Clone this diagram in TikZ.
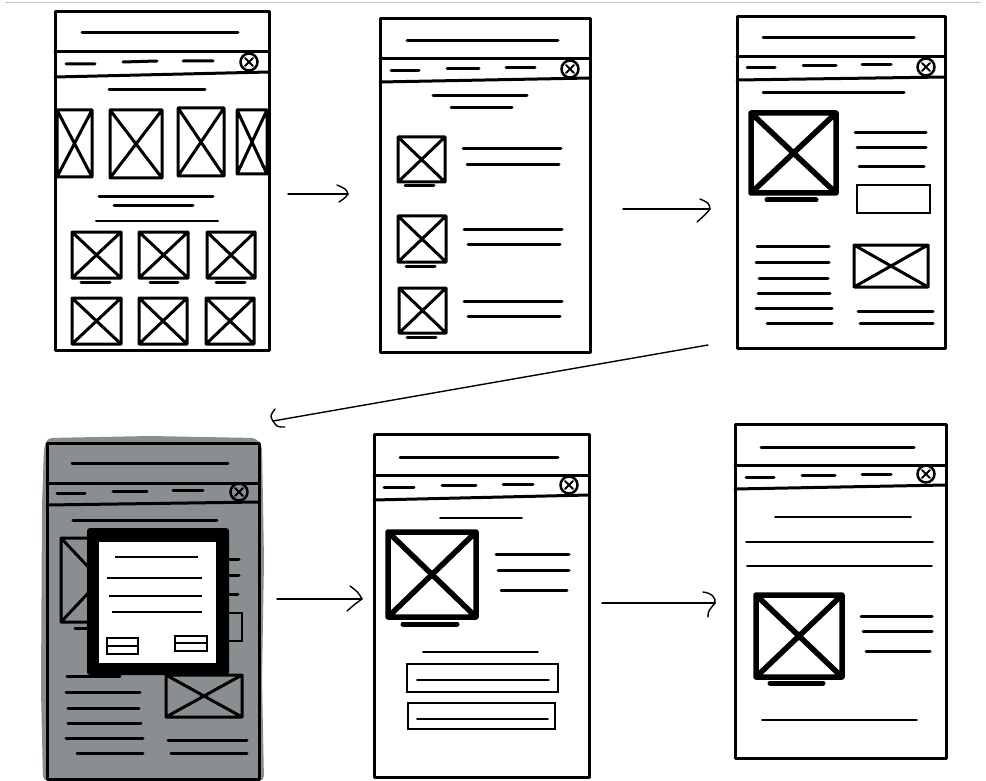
\documentclass[tikz,border=0pt]{standalone}
\begin{document}
\begin{tikzpicture}[x=1pt,y=-1pt]
\tikzset{
  fr/.style={line width=3pt, line cap=round, line join=round},
  tl/.style={line width=3pt, line cap=round},
  thn/.style={line width=1.6pt, line cap=round},
  thk/.style={line width=5pt, line cap=round},
  arr/.style={line width=1.4pt, line cap=round, line join=round},
}
\definecolor{greyfill}{RGB}{137,142,144}
\newcommand{\wfbox}[5]{\draw[line width=#5,line join=round,line cap=round] (#1,#2) rectangle (#3,#4) (#1,#2) -- (#3,#4) (#1,#4) -- (#3,#2);}
\newcommand{\wfclose}[2]{\draw[line width=2.5pt] (#1,#2) circle[radius=8.5pt]; \draw[line width=2pt,line cap=round] (#1-4,#2-4) -- (#1+4,#2+4) (#1-4,#2+4) -- (#1+4,#2-4);}
\newcommand{\wfframe}[7]{\draw[fr] (#1,#2) rectangle (#3,#4); \draw[fr] (#1,#5) -- (#3,#5); \draw[fr] (#1,#6) -- (#3,#7);}
\useasboundingbox (0,0) rectangle (986,781);
\fill[white] (0,0) rectangle (986,781);
\draw[line width=1.5pt, black!22] (5,2.5) -- (981,2.5);

% ---------- Frame 1
\wfframe{55}{12}{269}{350}{52}{77}{72}
\draw[tl] (82,33)--(238,33);
\draw[tl] (66,64)--(95,64) (123,62)--(157,61) (183,61)--(213,61);
\wfclose{249}{62}
\draw[tl] (109,90)--(205,90);
\wfbox{57}{110}{92}{177}{3pt}
\wfbox{110}{110}{162}{178}{3pt}
\wfbox{178}{108}{224}{176}{3pt}
\wfbox{237}{110}{267}{174}{3pt}
\draw[tl] (99,197)--(213,197) (114,206)--(193,206);
\draw[line width=2pt,line cap=round] (96,221)--(218,221);
\wfbox{72}{232}{121}{278}{3pt}
\wfbox{139}{232}{188}{278}{3pt}
\wfbox{207}{232}{255}{278}{3pt}
\draw[tl] (81,282)--(110,282) (150,282)--(178,282) (216,282)--(245,282);
\wfbox{72}{298}{121}{344}{3pt}
\wfbox{139}{298}{187}{344}{3pt}
\wfbox{206}{298}{254}{344}{3pt}

% ---------- Frame 2
\wfframe{380}{19}{590}{352}{59}{82}{78}
\draw[tl] (407,41)--(558,41);
\draw[tl] (391,71)--(419,71) (447,69)--(479,69) (506,68)--(535,68);
\wfclose{570}{69}
\draw[tl] (433,96)--(527,96) (451,108)--(512,108);
\wfbox{398}{137}{445}{182}{3pt}
\draw[tl] (405,186)--(434,186) (463,149)--(561,149) (467,165)--(559,165);
\wfbox{398}{216}{446}{262}{3pt}
\draw[tl] (406,266)--(435,266) (464,229)--(562,229) (468,244)--(560,244);
\wfbox{399}{288}{446}{333}{3pt}
\draw[tl] (407,337)--(436,337) (464,301)--(562,301) (468,316)--(560,316);

% ---------- Frame 3
\wfframe{737}{17}{945}{348}{57}{80}{77}
\draw[tl] (763,38)--(914,38);
\draw[tl] (747,68)--(775,68) (803,66)--(836,66) (862,65)--(891,65);
\wfclose{926}{67}
\draw[tl] (763,93)--(904,93);
\wfbox{751}{113}{836}{193}{5.5pt}
\draw[thk] (767,200)--(816,200);
\draw[tl] (855,133)--(926,133) (857,148)--(926,148) (859,167)--(924,167);
\draw[line width=2.5pt] (857,185) rectangle (930,213);
\draw[tl] (757,246)--(829,246) (756,262)--(829,262) (759,278)--(828,278)
  (758,293)--(830,293) (756,308)--(832,308) (767,323)--(832,323);
\wfbox{854}{245}{928}{287}{3pt}
\draw[tl] (858,311)--(933,311) (860,323)--(933,323);

% ---------- Frame 4 (modal)
\fill[greyfill, rounded corners=5pt] (47,438) -- (150,436) -- (256,438) -- (262,446)
  -- (264,560) -- (262,680) -- (264,781) -- (43,781) -- (41,690) -- (42,505)
  -- (44,448) -- cycle;
\wfframe{47}{443}{259}{779}{483}{505}{502}
\draw[tl] (72,463)--(228,463);
\draw[tl] (57,493)--(85,493) (113,491)--(147,491) (173,490)--(203,490);
\wfclose{239}{492}
\draw[tl] (73,520)--(217,520);
\wfbox{61}{538}{140}{622}{3pt}
\draw[tl] (75,628)--(110,628);
\draw[tl] (160,559)--(239,559) (160,575)--(239,575) (160,594)--(238,594);
\draw[line width=2.5pt] (170,613) rectangle (242,641);
\draw[tl] (67,676)--(120,676);
\fill[black, rounded corners=3pt] (87,528) rectangle (229,675);
\fill[white] (99,542) rectangle (216,663);
\draw[line width=1.6pt] (115,557)--(198,557) (107,578)--(202,578) (109,596)--(202,596) (112,612)--(202,612);
\draw[line width=1.8pt] (107,638) rectangle (138,654) (107,646)--(138,646);
\draw[line width=1.8pt] (175,636) rectangle (207,651) (175,643)--(207,643);
\wfbox{166}{675}{242}{717}{3pt}
\draw[tl] (66,692)--(140,692) (68,708)--(139,708) (68,723)--(141,723)
  (66,738)--(143,738) (77,753)--(143,753);
\draw[tl] (168,740)--(247,740) (171,753)--(247,753);

% ---------- Frame 5
\wfframe{374}{434}{589}{777}{475}{500}{495}
\draw[tl] (400,457)--(558,457);
\draw[tl] (384,487)--(414,487) (442,485)--(476,485) (503,484)--(533,484);
\wfclose{569}{485}
\draw[thn] (440,518)--(522,518);
\wfbox{388}{532}{476}{617}{5.5pt}
\draw[thk] (403,624)--(457,624);
\draw[tl] (496,554)--(569,554) (498,570)--(569,570) (501,590)--(567,590);
\draw[thn] (423,652)--(538,652);
\draw[line width=2pt] (407,664) rectangle (558,692) (408,703) rectangle (555,729);
\draw[thn] (417,680)--(549,680) (417,719)--(548,719);

% ---------- Frame 6
\wfframe{735}{424}{946}{758}{465}{489}{485}
\draw[tl] (761,447)--(914,447);
\draw[tl] (746,477)--(774,477) (802,475)--(835,475) (862,474)--(891,474);
\wfclose{926}{474}
\draw[thn] (775,517)--(911,517) (746,542)--(933,542) (747,566)--(932,566);
\wfbox{756}{595}{842}{677}{5.5pt}
\draw[thk] (770,683)--(823,683);
\draw[tl] (861,616)--(932,616) (863,631)--(932,631) (866,651)--(930,651);
\draw[thn] (762,720)--(917,720);

% ---------- Arrows
\coordinate (a1s) at (288,194); \coordinate (a1e) at (348,194);
\draw[arr] (a1s) -- (a1e);
\draw[arr] (337,185) .. controls (346,189) .. (a1e) .. controls (345,198) .. (339,202);
\coordinate (a2s) at (623,209); \coordinate (a2e) at (710,209);
\draw[arr] (a2s) -- (a2e);
\draw[arr] (700,199) .. controls (709,203) .. (a2e) .. controls (705,215) .. (697,222);
\coordinate (a3s) at (708,345); \coordinate (a3e) at (273,421);
\draw[arr] (a3s) -- (a3e);
\draw[arr] (275,409) .. controls (270,416) .. (a3e) .. controls (277,427) .. (285,427);
\coordinate (a4s) at (277,599); \coordinate (a4e) at (362,599);
\draw[arr] (a4s) -- (a4e);
\draw[arr] (350,586) .. controls (358,592) .. (a4e) .. controls (355,604) .. (347,611);
\coordinate (a5s) at (602,603); \coordinate (a5e) at (715,603);
\draw[arr] (a5s) -- (a5e);
\draw[arr] (703,592) .. controls (712,593) and (716,598) .. (a5e) .. controls (712,607) and (707,611) .. (708,617);
\end{tikzpicture}
\end{document}
